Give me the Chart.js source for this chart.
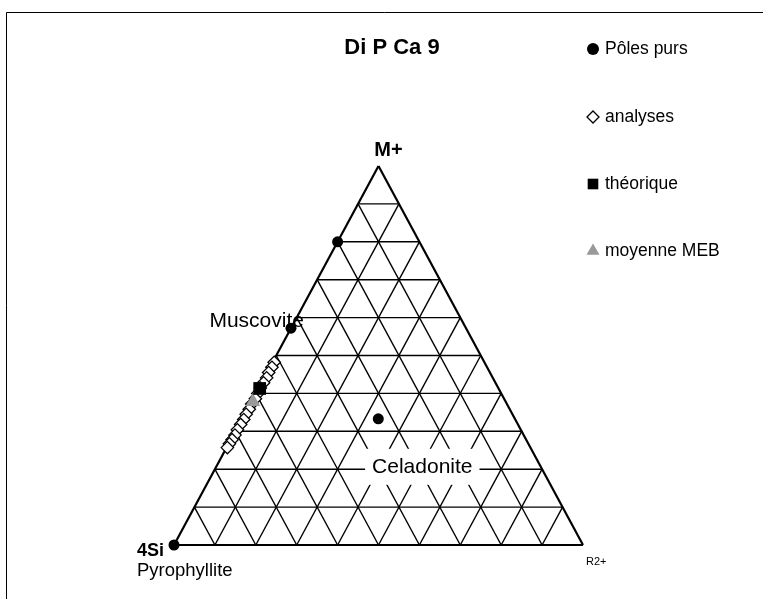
<!DOCTYPE html>
<html>
<head>
<meta charset="utf-8">
<title>Di P Ca 9</title>
<script src="https://cdn.jsdelivr.net/npm/chart.js@4.4.1/dist/chart.umd.min.js"></script>
<style>
    body { margin: 0; background: #fff; }
    canvas { display: block; }
</style>
</head>
<body>
<canvas id="ternaryChart" width="763" height="599"></canvas>
<script>
// Compositions as fractions of M+ and R2+ (4Si is whatever is left)
const poleNames = ['', 'Muscovite', 'Pyrophyllite', 'Celadonite'];
const poleM = [0.8, 0.572, 0, 0.333];
const poleR = [0, 0, 0, 0.333];

const analysesM = [0.482, 0.469, 0.455, 0.441, 0.428, 0.414, 0.400, 0.386, 0.372, 0.358, 0.345, 0.331, 0.318, 0.304, 0.290, 0.278, 0.267, 0.257];
const analysesR = [0.004, 0.005, 0.004, 0.006, 0.005, 0.004, 0.005, 0.006, 0.004, 0.005, 0.004, 0.005, 0.004, 0.003, 0.004, 0.003, 0.002, 0.002];

const theoM = [0.413];
const theoR = [0.003];

const mebM = [0.378];
const mebR = [0.004];

const gridSteps = [0.1, 0.2, 0.3, 0.4, 0.5, 0.6, 0.7, 0.8, 0.9];
const legendLabels = ['Pôles purs', 'analyses', 'théorique', 'moyenne MEB'];
const apexLabels = ['M+', '4Si', 'R2+'];

const FONT = '"Liberation Sans", Arial, sans-serif';

// apex M+ on top, 4Si bottom left, R2+ bottom right
function toXY(m, r) {
    return { x: r + m / 2, y: m };
}

function gridLine(a, b, width) {
    return {
        data: [toXY(a[0], a[1]), toXY(b[0], b[1])],
        showLine: true,
        borderColor: '#000',
        borderWidth: width,
        pointRadius: 0,
        clip: false,
        order: 10
    };
}

function buildGrid() {
    const lines = [];
    gridSteps.forEach(t => {
        lines.push(gridLine([t, 0], [t, 1 - t], 1.4));           // constant M+
        lines.push(gridLine([0, t], [1 - t, t], 1.4));           // constant R2+
        lines.push(gridLine([1 - t, 0], [0, 1 - t], 1.4));       // constant 4Si
    });
    lines.push(gridLine([0, 0], [0, 1], 2.2));
    lines.push(gridLine([0, 0], [1, 0], 2.2));
    lines.push(gridLine([1, 0], [0, 1], 2.2));
    return lines;
}

const markerSets = [
    {
        label: legendLabels[0],
        data: poleM.map((m, i) => toXY(m, poleR[i])),
        pointStyle: 'circle', pointRadius: 5.5,
        backgroundColor: '#000', borderColor: '#000', borderWidth: 0,
        clip: false, order: 0
    },
    {
        label: legendLabels[1],
        data: analysesM.map((m, i) => toXY(m, analysesR[i])),
        pointStyle: 'rectRot', pointRadius: 6.2,
        backgroundColor: '#fff', borderColor: '#000', borderWidth: 1.3,
        clip: false, order: 3
    },
    {
        label: legendLabels[2],
        data: theoM.map((m, i) => toXY(m, theoR[i])),
        pointStyle: 'rect', pointRadius: 9,
        backgroundColor: '#000', borderColor: '#000', borderWidth: 0,
        clip: false, order: 1
    },
    {
        label: legendLabels[3],
        data: mebM.map((m, i) => toXY(m, mebR[i])),
        pointStyle: 'triangle', pointRadius: 8.5,
        backgroundColor: '#999', borderColor: '#999', borderWidth: 0,
        clip: false, order: 2
    }
];

const annotate = {
    id: 'annotate',
    beforeDraw(chart) {
        const ctx = chart.ctx;
        ctx.save();
        ctx.fillStyle = '#fff';
        ctx.fillRect(0, 0, chart.width, chart.height);
        // plot frame, open to the right and bottom
        ctx.strokeStyle = '#000';
        ctx.lineWidth = 1;
        ctx.beginPath();
        ctx.moveTo(6.5, chart.height);
        ctx.lineTo(6.5, 12.5);
        ctx.lineTo(chart.width, 12.5);
        ctx.stroke();
        ctx.restore();
    },
    afterDatasetsDraw(chart) {
        const ctx = chart.ctx;
        const xs = chart.scales.x, ys = chart.scales.y;
        const px = p => ({ x: xs.getPixelForValue(p.x), y: ys.getPixelForValue(p.y) });

        ctx.save();
        ctx.fillStyle = '#000';
        ctx.textBaseline = 'middle';

        // title
        ctx.font = 'bold 22px ' + FONT;
        ctx.textAlign = 'center';
        ctx.fillText('Di P Ca 9', 392, 48);

        // apex labels
        const top = px(toXY(1, 0)), left = px(toXY(0, 0)), right = px(toXY(0, 1));
        ctx.font = 'bold 20px ' + FONT;
        ctx.textAlign = 'center';
        ctx.fillText(apexLabels[0], top.x + 10, top.y - 16);
        ctx.textAlign = 'left';
        ctx.font = 'bold 18px ' + FONT;
        ctx.fillText(apexLabels[1], left.x - 37, left.y + 6);
        ctx.font = '11px ' + FONT;
        ctx.fillText(apexLabels[2], right.x + 3, right.y + 17);

        // pole names
        ctx.font = '21px ' + FONT;
        const musc = px(toXY(poleM[1], poleR[1]));
        ctx.textAlign = 'right';
        ctx.fillText(poleNames[1], musc.x + 13, musc.y - 7);

        const pyro = px(toXY(poleM[2], poleR[2]));
        ctx.font = '18.5px ' + FONT;
        ctx.textAlign = 'left';
        ctx.fillText(poleNames[2], pyro.x - 37, pyro.y + 26);

        ctx.font = '21px ' + FONT;
        const cela = px(toXY(poleM[3], poleR[3]));
        const cx = cela.x + 44, cy = cela.y + 48;
        const w = ctx.measureText(poleNames[3]).width + 14;
        ctx.fillStyle = '#fff';
        ctx.fillRect(cx - w / 2, cy - 18, w, 36);
        ctx.fillStyle = '#000';
        ctx.textAlign = 'center';
        ctx.fillText(poleNames[3], cx, cy);

        // legend
        const legendY = [49, 117, 184, 251];
        markerSets.forEach((ds, i) => {
            ctx.fillStyle = ds.backgroundColor;
            ctx.strokeStyle = ds.borderColor;
            ctx.lineWidth = ds.borderWidth;
            Chart.helpers.drawPoint(ctx, {
                pointStyle: ds.pointStyle,
                radius: ds.pointStyle === 'circle' ? 6 : ds.pointStyle === 'rectRot' ? 6 : 7.5,
                rotation: 0,
                borderWidth: ds.borderWidth
            }, 593, legendY[i]);
            ctx.fillStyle = '#000';
            ctx.font = '17.5px ' + FONT;
            ctx.textAlign = 'left';
            ctx.fillText(ds.label, 605, legendY[i]);
        });

        ctx.restore();
    }
};

new Chart(document.getElementById('ternaryChart'), {
    type: 'scatter',
    data: { datasets: buildGrid().concat(markerSets) },
    options: {
        responsive: false,
        animation: false,
        events: [],
        layout: { padding: { left: 174, right: 180, top: 166, bottom: 54 } },
        scales: {
            x: { type: 'linear', min: 0, max: 1, display: false },
            y: { type: 'linear', min: 0, max: 1, display: false }
        },
        plugins: {
            legend: { display: false },
            tooltip: { enabled: false }
        }
    },
    plugins: [annotate]
});
</script>
</body>
</html>
